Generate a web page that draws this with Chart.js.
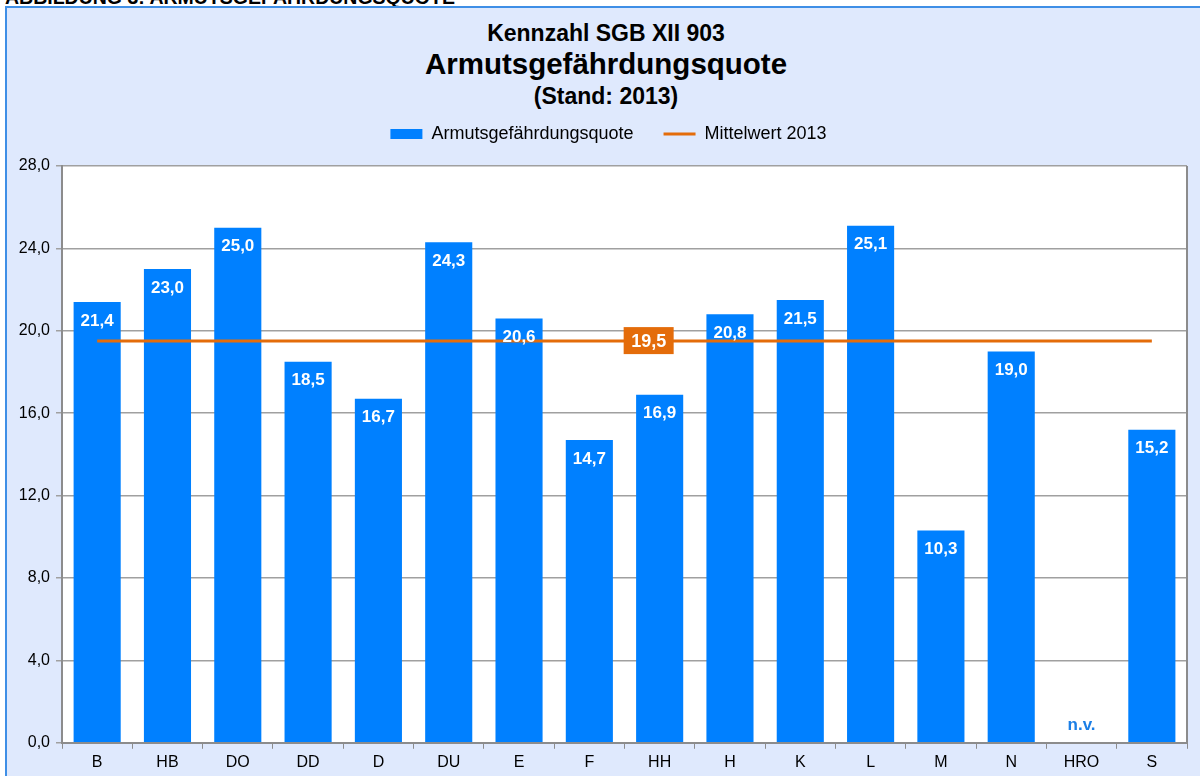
<!DOCTYPE html>
<html>
<head>
<meta charset="utf-8">
<script src="https://cdn.jsdelivr.net/npm/chart.js@4.4.0/dist/chart.umd.min.js"></script>
<style>
    body { margin: 0; background: #ffffff; font-family: 'Liberation Sans', Arial, sans-serif; }
    #page { position: relative; width: 1200px; height: 776px; overflow: hidden; }
    #header { position: absolute; left: 5px; top: -14px; font-size: 19.5px; font-weight: bold; color: #000; white-space: nowrap; }
    #frame { position: absolute; left: 5px; top: 6px; width: 1210px; height: 790px; background: #dfe9fd; border-left: 2px solid #3f8fe6; border-top: 2px solid #3f8fe6; }
    .title { position: absolute; left: 0; width: 1212px; text-align: center; font-weight: bold; color: #000; }
    #chartBox { position: absolute; left: 0; top: 0; width: 1200px; height: 776px; }
</style>
</head>
<body>
<div id="page">
    <div id="header">ABBILDUNG 3: ARMUTSGEFÄHRDUNGSQUOTE</div>
    <div id="frame"></div>
    <div class="title" style="top:20px; font-size:23px;">Kennzahl SGB XII 903</div>
    <div class="title" style="top:47px; font-size:29.5px;">Armutsgefährdungsquote</div>
    <div class="title" style="top:83px; font-size:23px;">(Stand: 2013)</div>
    <div id="chartBox"><canvas id="chartQuote"></canvas></div>
</div>
<script>
const staedte = ['B', 'HB', 'DO', 'DD', 'D', 'DU', 'E', 'F', 'HH', 'H', 'K', 'L', 'M', 'N', 'HRO', 'S'];
const quote = [21.4, 23.0, 25.0, 18.5, 16.7, 24.3, 20.6, 14.7, 16.9, 20.8, 21.5, 25.1, 10.3, 19.0, null, 15.2];
const mittelwert = 19.5;
const yTicks = [0, 4, 8, 12, 16, 20, 24, 28];

const blau = '#0080ff';
const orange = '#e46c0a';
const fmt = v => v.toFixed(1).replace('.', ',');

// Legende etwas nach rechts und oben schieben
const legendShift = {
    id: 'legendShift',
    afterLayout(chart) {
        const lg = chart.legend;
        lg.left += 30;
        lg.top -= 13;
        lg.bottom -= 13;
    }
};

// Beschriftungen der Balken, "n.v." und Mittelwert-Kasten
const labelPlugin = {
    id: 'labels',
    afterDatasetsDraw(chart) {
        const ctx = chart.ctx;
        const meta = chart.getDatasetMeta(0);
        const y = chart.scales.y;
        const area = chart.chartArea;
        ctx.save();
        ctx.textAlign = 'center';
        ctx.textBaseline = 'middle';
        meta.data.forEach((bar, i) => {
            const v = quote[i];
            if (v === null) {
                ctx.fillStyle = '#1c7fe6';
                ctx.font = 'bold 17px "Liberation Sans", Arial, sans-serif';
                ctx.fillText('n.v.', bar.x, y.getPixelForValue(0) - 17);
            } else {
                ctx.fillStyle = '#ffffff';
                ctx.font = 'bold 17px "Liberation Sans", Arial, sans-serif';
                ctx.fillText(fmt(v), bar.x, y.getPixelForValue(v) + 19);
            }
        });
        // Mittelwert-Kasten bei HH
        const hh = meta.data[staedte.indexOf('HH')];
        const my = y.getPixelForValue(mittelwert);
        const bx = hh.x - 11;
        ctx.fillStyle = orange;
        ctx.fillRect(bx - 25, my - 14, 50, 27);
        ctx.fillStyle = '#ffffff';
        ctx.font = 'bold 18px "Liberation Sans", Arial, sans-serif';
        ctx.fillText(fmt(mittelwert), bx, my + 1);
        // rechter Rahmen
        ctx.strokeStyle = '#8c8c8c';
        ctx.lineWidth = 2;
        ctx.beginPath();
        ctx.moveTo(area.right, area.top);
        ctx.lineTo(area.right, area.bottom);
        ctx.stroke();
        ctx.restore();
    }
};

const plotBg = {
    id: 'plotBg',
    beforeDraw(chart) {
        const a = chart.chartArea;
        chart.ctx.save();
        chart.ctx.fillStyle = '#ffffff';
        chart.ctx.fillRect(a.left, a.top, a.right - a.left, a.bottom - a.top);
        chart.ctx.restore();
    }
};

new Chart(document.getElementById('chartQuote'), {
    type: 'bar',
    data: {
        labels: staedte,
        datasets: [{
            label: 'Armutsgefährdungsquote',
            data: quote,
            backgroundColor: blau,
            borderWidth: 0,
            barPercentage: 0.67,
            categoryPercentage: 1.0,
            order: 1
        }, {
            type: 'line',
            label: 'Mittelwert 2013',
            data: staedte.map(() => mittelwert),
            borderColor: orange,
            backgroundColor: orange,
            borderWidth: 3,
            pointRadius: 0,
            order: 0
        }]
    },
    options: {
        responsive: true,
        maintainAspectRatio: false,
        animation: false,
        layout: {
            padding: { top: 108, right: 13, left: 0, bottom: 0 }
        },
        plugins: {
            legend: {
                position: 'top',
                labels: {
                    usePointStyle: true,
                    pointStyleWidth: 32,
                    boxHeight: 10,
                    padding: 30,
                    color: '#000',
                    font: { size: 18, family: '"Liberation Sans", Arial, sans-serif' },
                    generateLabels(chart) {
                        return chart.data.datasets.map((ds, i) => ({
                            text: ds.label,
                            fillStyle: ds.backgroundColor,
                            strokeStyle: i === 0 ? ds.backgroundColor : ds.borderColor,
                            lineWidth: i === 0 ? 0 : 3,
                            pointStyle: i === 0 ? 'rect' : 'line',
                            datasetIndex: i,
                            hidden: false
                        }));
                    }
                }
            },
            tooltip: { enabled: false }
        },
        scales: {
            x: {
                grid: {
                    offset: true,
                    drawOnChartArea: false,
                    color: '#8c8c8c',
                    tickLength: 6
                },
                border: { color: '#8c8c8c', width: 2 },
                ticks: {
                    color: '#000',
                    padding: 4,
                    font: { size: 16, family: '"Liberation Sans", Arial, sans-serif' }
                }
            },
            y: {
                min: 0,
                max: 28,
                afterFit(scale) { scale.width = 62; },
                afterBuildTicks(scale) { scale.ticks = yTicks.map(v => ({ value: v })); },
                grid: {
                    color: '#a0a0a0',
                    lineWidth: 1.5,
                    tickLength: 6
                },
                border: { color: '#8c8c8c', width: 2 },
                ticks: {
                    color: '#000',
                    padding: 6,
                    font: { size: 16, family: '"Liberation Sans", Arial, sans-serif' },
                    callback: v => fmt(v)
                }
            }
        }
    },
    plugins: [plotBg, legendShift, labelPlugin]
});
</script>
</body>
</html>
